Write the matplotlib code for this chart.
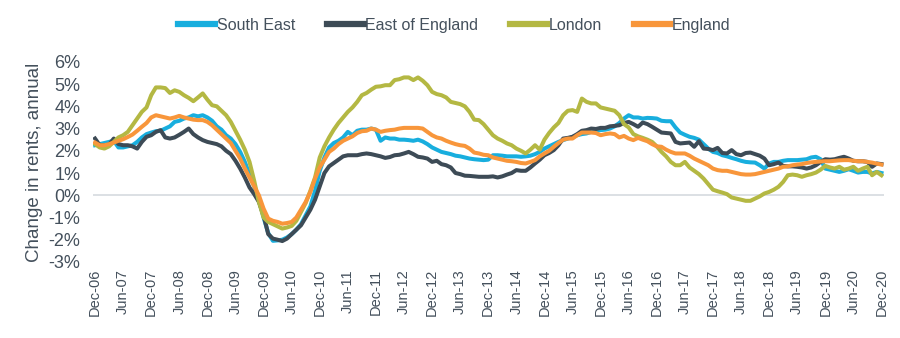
import matplotlib
matplotlib.use("Agg")
import matplotlib.pyplot as plt
import numpy as np

# Monthly annual change in rents (%), Dec-06 .. Dec-20
south_east = [2.25,
    2.3, 2.35, 2.4, 2.45, 2.15, 2.15, 2.2, 2.25, 2.4, 2.6, 2.75, 2.82,
    2.88, 2.9, 3.0, 3.1, 3.3, 3.35, 3.45, 3.5, 3.6, 3.55, 3.6, 3.5,
    3.35, 3.1, 2.95, 2.7, 2.55, 2.3, 1.95, 1.5, 0.95, 0.4, -0.2, -1.0,
    -1.7, -2.05, -2.03, -2.0, -1.9, -1.75, -1.55, -1.3, -0.9, -0.5, 0.2, 1.1,
    1.7, 2.15, 2.35, 2.45, 2.6, 2.85, 2.7, 2.9, 2.95, 2.95, 3.0, 2.95,
    2.45, 2.6, 2.55, 2.55, 2.5, 2.5, 2.48, 2.45, 2.5, 2.42, 2.3, 2.15,
    2.05, 1.95, 1.9, 1.85, 1.78, 1.75, 1.7, 1.65, 1.62, 1.6, 1.58, 1.6,
    1.8, 1.8, 1.78, 1.75, 1.75, 1.75, 1.73, 1.75, 1.78, 1.85, 1.95, 2.1,
    2.2, 2.3, 2.4, 2.48, 2.55, 2.62, 2.7, 2.75, 2.78, 2.85, 2.9, 2.93,
    2.95, 3.0, 3.1, 3.25, 3.45, 3.6, 3.5, 3.5, 3.45, 3.48, 3.47, 3.45,
    3.35, 3.33, 3.33, 3.05, 2.82, 2.72, 2.63, 2.58, 2.5, 2.3, 2.1, 1.95,
    1.9, 1.8, 1.75, 1.68, 1.62, 1.55, 1.5, 1.48, 1.47, 1.35, 1.2, 1.43,
    1.5, 1.5, 1.55, 1.58, 1.58, 1.58, 1.6, 1.62, 1.7, 1.73, 1.62, 1.2,
    1.15, 1.1, 1.05, 1.1, 1.17, 1.1, 1.02, 1.05, 1.05, 0.98, 1.05, 1.0]

east_of_england = [2.55,
    2.25, 2.25, 2.28, 2.55, 2.3, 2.25, 2.25, 2.2, 2.1, 2.4, 2.63, 2.7,
    2.85, 2.93, 2.6, 2.55, 2.6, 2.72, 2.85, 3.0, 2.75, 2.6, 2.48, 2.4,
    2.35, 2.3, 2.2, 2.0, 1.85, 1.55, 1.2, 0.8, 0.35, 0.05, -0.3, -0.9,
    -1.75, -1.95, -2.0, -2.06, -1.95, -1.75, -1.55, -1.35, -1.0, -0.65, -0.2, 0.4,
    1.0, 1.3, 1.45, 1.6, 1.75, 1.8, 1.8, 1.8, 1.85, 1.88, 1.85, 1.8,
    1.75, 1.68, 1.72, 1.8, 1.82, 1.88, 1.95, 1.85, 1.73, 1.7, 1.65, 1.5,
    1.55, 1.4, 1.35, 1.25, 1.0, 0.95, 0.88, 0.87, 0.85, 0.83, 0.83, 0.83,
    0.85, 0.8, 0.85, 0.93, 1.0, 1.13, 1.1, 1.1, 1.25, 1.43, 1.6, 1.8,
    1.9, 2.03, 2.25, 2.55, 2.58, 2.63, 2.75, 2.9, 2.93, 3.0, 2.98, 3.03,
    3.03, 3.1, 3.12, 3.15, 3.25, 3.3, 3.2, 3.08, 3.27, 3.2, 3.08, 2.95,
    2.82, 2.8, 2.78, 2.4, 2.33, 2.35, 2.37, 2.18, 2.43, 2.1, 2.08, 2.03,
    2.13, 1.9, 1.88, 2.03, 1.85, 1.8, 1.9, 1.92, 1.85, 1.78, 1.65, 1.35,
    1.4, 1.47, 1.32, 1.3, 1.3, 1.28, 1.25, 1.2, 1.25, 1.35, 1.5, 1.62,
    1.6, 1.62, 1.68, 1.73, 1.65, 1.55, 1.53, 1.53, 1.5, 1.28, 1.43, 1.4]

london = [2.3,
    2.15, 2.1, 2.2, 2.4, 2.6, 2.7, 2.85, 3.15, 3.45, 3.75, 3.95, 4.5,
    4.85, 4.85, 4.82, 4.6, 4.72, 4.65, 4.5, 4.38, 4.23, 4.4, 4.58, 4.3,
    4.05, 4.0, 3.8, 3.6, 3.3, 2.9, 2.5, 2.05, 1.5, 0.65, -0.3, -1.0,
    -1.2, -1.3, -1.4, -1.5, -1.45, -1.38, -1.15, -0.75, -0.35, 0.2, 0.8, 1.7,
    2.2, 2.6, 2.95, 3.25, 3.5, 3.75, 3.95, 4.2, 4.5, 4.6, 4.75, 4.88,
    4.9, 4.95, 4.95, 5.18, 5.22, 5.3, 5.3, 5.18, 5.3, 5.15, 4.95, 4.65,
    4.55, 4.5, 4.4, 4.2, 4.15, 4.1, 4.0, 3.75, 3.4, 3.38, 3.2, 2.95,
    2.7, 2.55, 2.45, 2.33, 2.25, 2.1, 2.0, 1.88, 2.05, 2.25, 2.05, 2.5,
    2.8, 3.05, 3.25, 3.6, 3.8, 3.83, 3.75, 4.35, 4.2, 4.13, 4.13, 3.95,
    3.9, 3.85, 3.8, 3.6, 3.2, 3.05, 2.75, 2.65, 2.58, 2.5, 2.4, 2.2,
    1.95, 1.75, 1.5, 1.35, 1.35, 1.5, 1.25, 1.1, 0.95, 0.75, 0.5, 0.25,
    0.18, 0.12, 0.05, -0.1, -0.15, -0.2, -0.25, -0.25, -0.15, -0.05, 0.08, 0.15,
    0.25, 0.38, 0.6, 0.9, 0.93, 0.9, 0.83, 0.9, 0.95, 1.02, 1.15, 1.32,
    1.25, 1.2, 1.28, 1.15, 1.2, 1.28, 1.1, 1.2, 1.28, 0.9, 1.05, 0.9]

england = [2.37,
    2.25, 2.25, 2.3, 2.37, 2.45, 2.52, 2.62, 2.73, 2.9, 3.08, 3.25, 3.5,
    3.6, 3.55, 3.5, 3.45, 3.5, 3.57, 3.5, 3.45, 3.4, 3.38, 3.38, 3.3,
    3.15, 2.95, 2.75, 2.55, 2.35, 2.0, 1.65, 1.2, 0.8, 0.4, 0.0, -0.6,
    -1.05, -1.15, -1.2, -1.28, -1.25, -1.2, -1.0, -0.65, -0.3, 0.15, 0.75, 1.25,
    1.6, 1.95, 2.1, 2.3, 2.45, 2.55, 2.65, 2.8, 2.88, 2.9, 3.0, 2.95,
    2.85, 2.9, 2.93, 2.95, 3.0, 3.03, 3.03, 3.03, 3.03, 3.0, 2.85, 2.7,
    2.6, 2.55, 2.45, 2.37, 2.3, 2.25, 2.22, 2.1, 1.92, 1.88, 1.82, 1.8,
    1.7, 1.65, 1.6, 1.55, 1.53, 1.5, 1.45, 1.43, 1.5, 1.58, 1.75, 1.88,
    2.0, 2.18, 2.35, 2.5, 2.55, 2.55, 2.7, 2.82, 2.82, 2.82, 2.8, 2.7,
    2.75, 2.78, 2.75, 2.6, 2.67, 2.55, 2.48, 2.58, 2.5, 2.43, 2.3, 2.2,
    2.18, 2.05, 1.95, 1.88, 1.88, 1.88, 1.78, 1.65, 1.55, 1.45, 1.35, 1.2,
    1.13, 1.1, 1.1, 1.05, 1.0, 0.95, 0.93, 0.93, 0.95, 1.0, 1.05, 1.1,
    1.15, 1.2, 1.28, 1.3, 1.35, 1.38, 1.4, 1.45, 1.48, 1.5, 1.52, 1.53,
    1.53, 1.55, 1.57, 1.58, 1.58, 1.55, 1.53, 1.53, 1.5, 1.47, 1.42, 1.38]

tick_labels = ["Dec-06", "Jun-07", "Dec-07", "Jun-08", "Dec-08", "Jun-09", "Dec-09",
               "Jun-10", "Dec-10", "Jun-11", "Dec-11", "Jun-12", "Dec-12", "Jun-13",
               "Dec-13", "Jun-14", "Dec-14", "Jun-15", "Dec-15", "Jun-16", "Dec-16",
               "Jun-17", "Dec-17", "Jun-18", "Dec-18", "Jun-19", "Dec-19", "Jun-20",
               "Dec-20"]

series = [("South East", south_east, "#18aede"),
          ("East of England", east_of_england, "#3d4b56"),
          ("London", london, "#b4b843"),
          ("England", england, "#f8963b")]

text_color = "#44505c"
plt.rcParams['font.family'] = ['Liberation Sans', 'DejaVu Sans']

fig = plt.figure(figsize=(9, 3.38), dpi=100)
ax = fig.add_axes([0.103, 0.225, 0.879, 0.592])

n = len(south_east)
x = np.arange(n)
ax.axhline(0, color="#d9dde2", lw=1.3, zorder=1)
for name, vals, col in series:
    ax.plot(x, vals, color=col, lw=2.9, label=name, solid_joinstyle='round', zorder=3)

ax.set_xlim(-0.5, n - 0.5)
ax.set_ylim(-3, 6)
ax.set_yticks(range(-3, 7))
ax.set_yticklabels([f"{v}%" for v in range(-3, 7)], fontsize=13, color=text_color)
ax.set_xticks(np.arange(0, n, 6))
ax.set_xticklabels(tick_labels, rotation=90, fontsize=10.5, color=text_color)
ax.tick_params(axis='y', length=0, pad=9)
ax.tick_params(axis='x', length=0, pad=5)
for s in ax.spines.values():
    s.set_visible(False)
ax.set_ylabel("Change in rents, annual", fontsize=13.5, color=text_color, labelpad=4)

fig.legend(loc="center", bbox_to_anchor=(0.505, 0.925), ncol=4, frameon=False,
           fontsize=11.5, handlelength=2.3, handletextpad=0.1, columnspacing=2.0,
           labelcolor=text_color)
for line in fig.legends[0].get_lines():
    line.set_linewidth(4.5)

fig.savefig("out.png", dpi=100)
